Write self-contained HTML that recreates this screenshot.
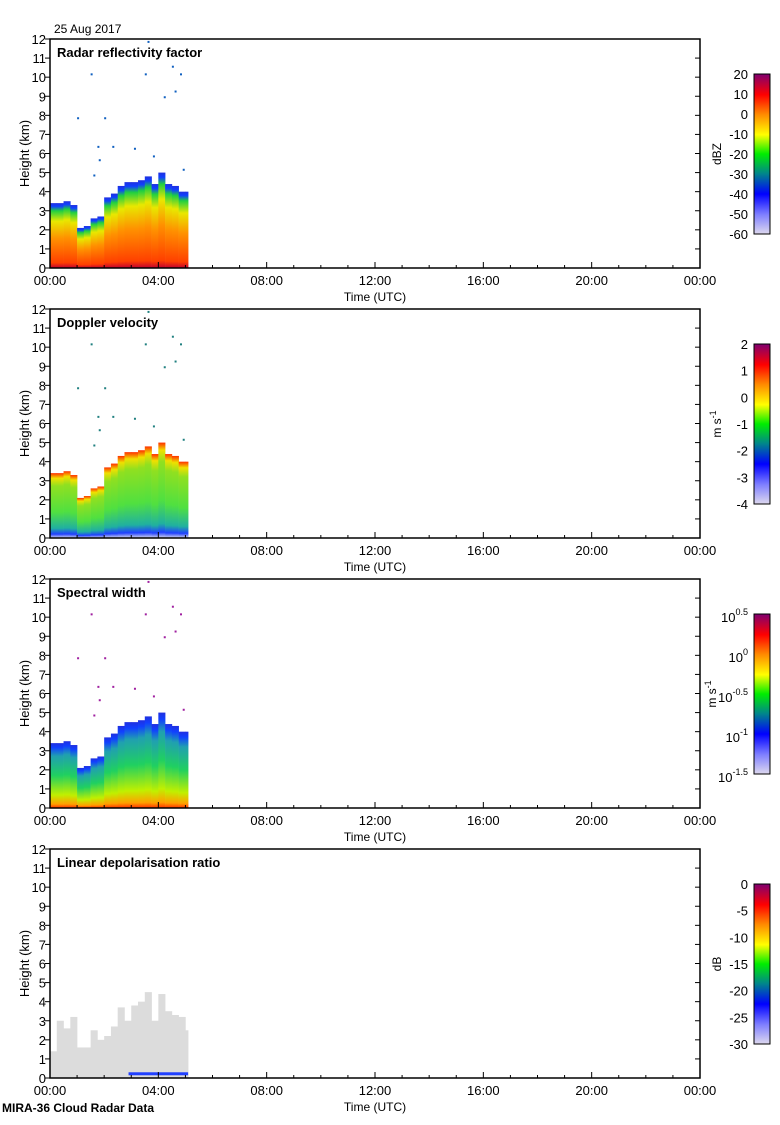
<!DOCTYPE html>
<html><head><meta charset="utf-8"><style>
body{margin:0;background:#fff;}
svg text{font-family:"Liberation Sans",sans-serif;}
</style></head><body>
<svg id="c" width="780" height="1120" xmlns="http://www.w3.org/2000/svg">
<defs>
<linearGradient id="cbar" x1="0" y1="1" x2="0" y2="0">
<stop offset="0" stop-color="#ddd8ee"/><stop offset="0.12" stop-color="#8080ff"/><stop offset="0.25" stop-color="#0000ff"/>
<stop offset="0.38" stop-color="#008888"/><stop offset="0.5" stop-color="#00ee00"/><stop offset="0.62" stop-color="#ffff00"/>
<stop offset="0.75" stop-color="#ff8800"/><stop offset="0.87" stop-color="#ff0000"/><stop offset="1" stop-color="#800070"/></linearGradient>
<linearGradient id="g0" x1="0" y1="1" x2="0" y2="0">
<stop offset="0" stop-color="#c00030"/><stop offset="0.08" stop-color="#ff4000"/><stop offset="0.45" stop-color="#ff9000"/><stop offset="0.72" stop-color="#e8e800"/><stop offset="0.88" stop-color="#20d040"/><stop offset="0.95" stop-color="#1040ff"/><stop offset="1" stop-color="#2030e0"/></linearGradient>
<linearGradient id="g1" x1="0" y1="1" x2="0" y2="0">
<stop offset="0" stop-color="#d8d8e8"/><stop offset="0.06" stop-color="#2040ff"/><stop offset="0.15" stop-color="#20b0a0"/><stop offset="0.4" stop-color="#50e040"/><stop offset="0.8" stop-color="#90e020"/><stop offset="0.92" stop-color="#f0e000"/><stop offset="1" stop-color="#ff3000"/></linearGradient>
<linearGradient id="g2" x1="0" y1="1" x2="0" y2="0">
<stop offset="0" stop-color="#ff3000"/><stop offset="0.06" stop-color="#ffa000"/><stop offset="0.2" stop-color="#c0f000"/><stop offset="0.5" stop-color="#20d060"/><stop offset="0.8" stop-color="#20a0b0"/><stop offset="0.93" stop-color="#1040ff"/><stop offset="1" stop-color="#2030e0"/></linearGradient>
</defs>
</svg>
<script>
const times=[0,0.25,0.5,0.75,1.0,1.25,1.5,1.75,2.0,2.25,2.5,2.75,3.0,3.25,3.5,3.75,4.0,4.25,4.5,4.75,5.0];
const cloudTop=[3.4,3.4,3.5,3.3,2.1,2.2,2.6,2.7,3.7,3.9,4.3,4.5,4.5,4.6,4.8,4.4,5.0,4.4,4.3,4.0,4.0];
const ldrTop=[1.4,3.0,2.6,3.2,1.6,1.6,2.5,2.0,2.2,2.7,3.7,3.0,3.8,4.0,4.5,3.0,4.4,3.5,3.3,3.2,2.5];
const noiseT=[1.0,1.5,1.75,1.8,2.0,2.3,3.1,3.5,3.6,3.8,4.2,4.5,4.6,4.8,1.6,4.9];
const noiseH=[7.9,10.2,6.4,5.7,7.9,6.4,6.3,10.2,11.9,5.9,9.0,10.6,9.3,10.2,4.9,5.2];
const xTickLabels=["00:00","04:00","08:00","12:00","16:00","20:00","00:00"];
const yTicks=[0,1,2,3,4,5,6,7,8,9,10,11,12];
const titles=["Radar reflectivity factor","Doppler velocity","Spectral width","Linear depolarisation ratio"];
const cbLabels=[["20","10","0","-10","-20","-30","-40","-50","-60"],["2","1","0","-1","-2","-3","-4"],["0.5","0","-0.5","-1","-1.5"],["0","-5","-10","-15","-20","-25","-30"]];
const cbUnits=["dBZ","m s-1","m s-1","dB"];
const svg=document.getElementById('c');
const NS="http://www.w3.org/2000/svg";
function mk(t,a,txt){const e=document.createElementNS(NS,t);for(const k in a)e.setAttribute(k,a[k]);if(txt!==undefined)e.textContent=txt;svg.appendChild(e);return e;}
const X0=50,X1=700;
const xs=h=>X0+h/24*(X1-X0);
for(let p=0;p<4;p++){
 const top=39+p*270,bot=268+p*270;
 const ys=v=>bot-v/12*(bot-top);
 const dt=0.25;
 for(let i=0;i<times.length;i++){
  const x=xs(times[i]),w=xs(times[i]+(i==times.length-1?0.1:dt))-x+0.3;
  const h=p==3?ldrTop[i]:cloudTop[i];
  let r=mk('rect',{x:x,y:ys(h),width:w,height:bot-ys(h),fill:p==3?'#dcdcdc':'url(#g'+p+')'});
  
  
 }
 if(p==3){let r=mk('rect',{x:xs(2.9),y:ys(0.3),width:xs(5.1)-xs(2.9),height:3,fill:'#2040ff'});
  }
 if(p<3){for(let i=0;i<noiseT.length;i++){let d=mk('rect',{x:xs(noiseT[i]),y:ys(noiseH[i]),width:2,height:2,fill:p==0?'#1060c0':(p==1?'#208080':'#a020a0')});
  }}
 let fr=mk('rect',{x:X0,y:top,width:X1-X0,height:bot-top,fill:'none',stroke:'#000','stroke-width':1.5});
 
 for(const v of yTicks){
  mk('line',{x1:X0-5,x2:X0,y1:ys(v),y2:ys(v),stroke:'#000'});
  mk('line',{x1:X1-5,x2:X1,y1:ys(v),y2:ys(v),stroke:'#000'});
  let t=mk('text',{x:X0-4,y:ys(v)+5,'font-size':13,'text-anchor':'end'},v);
  
 }
 for(let h=0;h<=24;h++){mk('line',{x1:xs(h),x2:xs(h),y1:bot,y2:bot-(h%4==0?6:3),stroke:'#000'});}
 xTickLabels.forEach((l,i)=>{let t=mk('text',{x:xs(i*4),y:bot+17,'font-size':13,'text-anchor':'middle'},l);
  });
 let xt=mk('text',{x:375,y:bot+33,'font-size':12,'text-anchor':'middle'},'Time (UTC)');
 
 let yt=mk('text',{x:0,y:0,'font-size':13,'text-anchor':'middle',transform:`translate(29,${(top+bot)/2}) rotate(-90)`},'Height (km)');
 
 let ti=mk('text',{x:57,y:top+18,'font-size':13,'font-weight':'bold'},titles[p]);
 
 const cT=74+p*270,cB=234+p*270;
 let cb=mk('rect',{x:754,y:cT,width:16,height:cB-cT,fill:'url(#cbar)',stroke:'#000','stroke-width':1});
 
 const L=cbLabels[p];
 L.forEach((l,i)=>{const y=cT+i*(cB-cT)/(L.length-1);
  let t=mk('text',{x:748,y:y+5,'font-size':13,'text-anchor':'end'});
  if(p==2){
   const b=document.createElementNS(NS,'tspan');b.textContent='10';t.appendChild(b);
   const s=document.createElementNS(NS,'tspan');s.setAttribute('dy','-7');s.setAttribute('font-size','9');s.textContent=l;t.appendChild(s);
   t.setAttribute('y',y+8);
  } else t.textContent=l;
  
 });
 let u=mk('text',{x:0,y:0,'font-size':12,'text-anchor':'middle',transform:`translate(${p==2?716:721},${(cT+cB)/2}) rotate(-90)`});
 if(cbUnits[p]=='m s-1'){u.textContent='m s';const ts=document.createElementNS(NS,'tspan');ts.setAttribute('dy','-5');ts.setAttribute('font-size','9');ts.textContent='-1';u.appendChild(ts);}
 else u.textContent=cbUnits[p];
 
}
let d=mk('text',{x:54,y:33,'font-size':12},'25 Aug 2017');

let f=mk('text',{x:2,y:1112,'font-size':12,'font-weight':'bold'},'MIRA-36 Cloud Radar Data');

</script>
</body></html>
